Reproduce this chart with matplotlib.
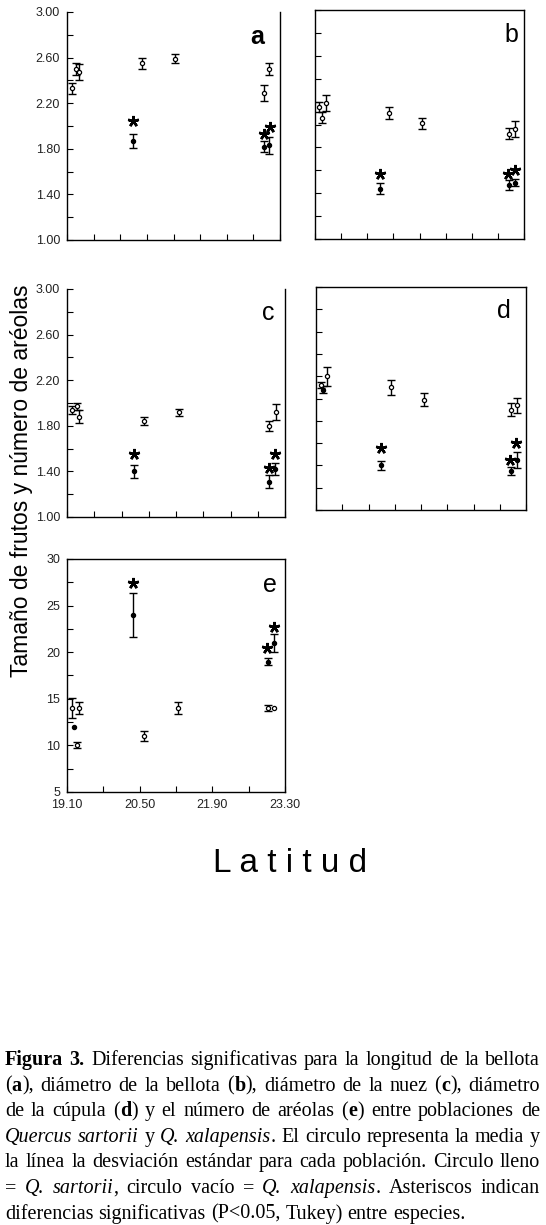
import numpy as np
import matplotlib
matplotlib.use("Agg")
import matplotlib.pyplot as plt
from matplotlib.ticker import MultipleLocator, FixedLocator, NullFormatter

plt.rcParams['font.family'] = ['Liberation Sans', 'DejaVu Sans']

W, H = 546, 1225

# (a) longitud de la bellota
a_xal_lat = [19.19, 19.27, 19.33, 20.58, 21.23, 22.98, 23.09]
a_xal_mean = [2.33, 2.50, 2.47, 2.55, 2.59, 2.29, 2.50]
a_xal_sd = [0.05, 0.05, 0.07, 0.05, 0.04, 0.07, 0.05]
a_sar_lat = [20.40, 22.98, 23.08]
a_sar_mean = [1.87, 1.82, 1.83]
a_sar_sd = [0.06, 0.05, 0.075]
a_star_lat = [20.40, 22.98, 23.10]
a_star_y = [2.04, 1.93, 1.99]

# (b) diametro de la bellota
b_xal_lat = [19.19, 19.24, 19.33, 20.59, 21.25, 23.00, 23.11]
b_xal_mean = [2.15, 2.06, 2.19, 2.10, 2.01, 1.92, 1.96]
b_xal_sd = [0.045, 0.05, 0.07, 0.05, 0.05, 0.05, 0.07]
b_sar_lat = [20.40, 23.00, 23.11]
b_sar_mean = [1.44, 1.47, 1.49]
b_sar_sd = [0.05, 0.045, 0.03]
b_star_lat = [20.40, 22.97, 23.11]
b_star_y = [1.57, 1.57, 1.60]

# (c) diametro de la nuez
c_xal_lat = [19.19, 19.30, 19.34, 20.59, 21.25, 23.00, 23.12]
c_xal_mean = [1.94, 1.97, 1.88, 1.84, 1.92, 1.80, 1.92]
c_xal_sd = [0.035, 0.03, 0.055, 0.037, 0.03, 0.045, 0.073]
c_sar_lat = [20.40, 23.00, 23.10]
c_sar_mean = [1.40, 1.31, 1.42]
c_sar_sd = [0.06, 0.06, 0.055]
c_star_lat = [20.40, 22.99, 23.11]
c_star_y = [1.55, 1.43, 1.55]

# (d) diametro de la cupula
d_xal_lat = [19.19, 19.33, 20.59, 21.25, 23.00, 23.11]
d_xal_mean = [2.12, 2.20, 2.10, 1.99, 1.90, 1.94]
d_xal_sd = [0.03, 0.085, 0.07, 0.06, 0.057, 0.067]
d_sar_lat = [19.24, 20.40, 23.00, 23.11]
d_sar_mean = [2.08, 1.40, 1.35, 1.45]
d_sar_sd = [0.035, 0.04, 0.037, 0.072]
d_star_lat = [20.40, 22.98, 23.10]
d_star_y = [1.56, 1.45, 1.60]

# (e) numero de areolas
e_xal_lat = [19.19, 19.30, 19.33, 20.59, 21.23, 22.98, 23.09]
e_xal_mean = [14.0, 10.0, 14.0, 11.0, 14.0, 14.0, 14.0]
e_xal_sd = [1.05, 0.32, 0.67, 0.5, 0.67, 0.33, 0.0]
e_sar_lat = [19.24, 20.38, 22.98, 23.09]
e_sar_mean = [12.0, 24.0, 19.0, 21.0]
e_sar_sd = [0.0, 2.33, 0.36, 1.0]
e_star_lat = [20.38, 22.96, 23.09]
e_star_y = [27.4, 20.4, 22.7]

e_xticks = ["19.10", "20.50", "21.90", "23.30"]
ad_yticks = [1.00, 1.40, 1.80, 2.20, 2.60, 3.00]

caption = [
    [("Figura 3.", "b"), (" Diferencias significativas para la longitud de la bellota", "")],
    [("(", ""), ("a", "b"), ("), diámetro de la bellota (", ""), ("b", "b"),
     ("), diámetro de la nuez (", ""), ("c", "b"), ("), diámetro", "")],
    [("de la cúpula (", ""), ("d", "b"), (") y el número de aréolas (", ""), ("e", "b"),
     (") entre poblaciones de", "")],
    [("Quercus sartorii", "i"), (" y ", ""), ("Q. xalapensis", "i"),
     (". El circulo representa la media y", "")],
    [("la línea la desviación estándar para cada población. Circulo lleno", "")],
    [("= ", ""), ("Q. sartorii", "i"), (", circulo vacío = ", ""), ("Q. xalapensis", "i"),
     (". Asteriscos indican", "")],
    [("diferencias significativas (P<0.05, Tukey) entre especies.", "")],
]


def px_axes(fig, l, t, r, b):
    return fig.add_axes([l / W, 1 - b / H, (r - l) / W, (b - t) / H])


def draw_group(ax, lat, mean, sd, face):
    lat, mean, sd = np.array(lat), np.array(mean), np.array(sd)
    m = sd > 0
    ax.errorbar(lat[m], mean[m], yerr=sd[m], fmt='none', ecolor='black',
                elinewidth=1, capsize=3.2, capthick=1, zorder=2)
    ax.plot(lat, mean, 'o', ms=3, mfc=face, mec='black', mew=0.9, zorder=3)


def panel(ax, xal, sar, stars, top_spine=True):
    draw_group(ax, *xal, 'white')
    draw_group(ax, *sar, 'black')
    ax.plot(stars[0], stars[1], ls='none', marker=(5, 2, 0), ms=8, mew=1.8,
            color='black', zorder=4)
    ax.spines['top'].set_visible(top_spine)
    for s in ax.spines.values():
        s.set_linewidth(1)
    ax.tick_params(which='both', direction='in', length=4, width=0.8,
                   labelsize=9, labelcolor='#222222', pad=5)
    ax.tick_params(axis='x', pad=5)


fig = plt.figure(figsize=(W / 100, H / 100), dpi=100)

axa = px_axes(fig, 67, 12, 280, 240)
axb = px_axes(fig, 315, 10, 524, 239)
axc = px_axes(fig, 67, 289, 285, 517)
axd = px_axes(fig, 316, 287, 526, 510)
axe = px_axes(fig, 67, 559, 285, 792)

panel(axa, (a_xal_lat, a_xal_mean, a_xal_sd), (a_sar_lat, a_sar_mean, a_sar_sd),
      (a_star_lat, a_star_y), top_spine=False)
panel(axb, (b_xal_lat, b_xal_mean, b_xal_sd), (b_sar_lat, b_sar_mean, b_sar_sd),
      (b_star_lat, b_star_y))
panel(axc, (c_xal_lat, c_xal_mean, c_xal_sd), (c_sar_lat, c_sar_mean, c_sar_sd),
      (c_star_lat, c_star_y), top_spine=False)
panel(axd, (d_xal_lat, d_xal_mean, d_xal_sd), (d_sar_lat, d_sar_mean, d_sar_sd),
      (d_star_lat, d_star_y))
panel(axe, (e_xal_lat, e_xal_mean, e_xal_sd), (e_sar_lat, e_sar_mean, e_sar_sd),
      (e_star_lat, e_star_y))

for ax in [axa, axb, axc, axd]:
    ax.set_xlim(19.1, 23.3)
    ax.set_ylim(1.0, 3.0)
    ax.xaxis.set_major_locator(FixedLocator(np.linspace(19.1, 23.3, 9)))
    ax.xaxis.set_major_formatter(NullFormatter())
    ax.yaxis.set_major_locator(FixedLocator(ad_yticks))
    ax.yaxis.set_minor_locator(FixedLocator([1.2, 1.6, 2.0, 2.4, 2.8]))
    ax.yaxis.set_major_formatter(lambda v, p: f"{v:.2f}")
for ax in [axb, axd]:
    ax.yaxis.set_major_formatter(NullFormatter())

axe.set_xlim(19.1, 23.3)
axe.set_ylim(5, 30)
axe.xaxis.set_major_locator(FixedLocator([19.1, 20.5, 21.9, 23.3]))
axe.xaxis.set_minor_locator(FixedLocator([19.8, 21.2, 22.6]))
axe.set_xticklabels(e_xticks)
axe.yaxis.set_major_locator(MultipleLocator(5))
axe.yaxis.set_minor_locator(MultipleLocator(2.5))

# panel letters
for (x, y, s) in [(257, 37, "a"), (511, 35, "b"), (268, 313, "c"), (504, 311, "d"), (270, 585, "e")]:
    fig.text(x / W, 1 - y / H, s, fontsize=18, ha='center', va='center',
             weight='bold' if s == "a" else 'normal')

fig.text(22 / W, 1 - 481 / H, "Tamaño de frutos y número de aréolas", rotation=90,
         fontsize=16.5, ha='center', va='center')
fig.text(290 / W, 1 - 863 / H, "L a t i t u d", fontsize=24, ha='center', va='center')

# justified caption
cap_fs = 14.5
left, right = 5, 540
renderer = fig.canvas.get_renderer()
styles = {"": {}, "b": {"weight": "bold"}, "i": {"style": "italic"}}
for k, runs in enumerate(caption):
    words = [[]]
    for txt, st in runs:
        parts = txt.split(' ')
        for i, p in enumerate(parts):
            if i > 0:
                words.append([])
            if p:
                words[-1].append((p, st))
    words = [w for w in words if w]
    yb = 1 - (1065 + 25.6 * k) / H
    objs = []
    for w in words:
        pieces = []
        for p, st in w:
            t = fig.text(0, yb, p, fontsize=cap_fs, family='Liberation Serif',
                         va='baseline', ha='left', **styles[st])
            wpx = t.get_window_extent(renderer).width
            pieces.append((t, wpx))
        objs.append(pieces)
    widths = [sum(p[1] for p in ps) for ps in objs]
    if k < len(caption) - 1:
        gap = (right - left - sum(widths)) / (len(objs) - 1)
    else:
        gap = cap_fs * 100 / 72 * 0.25
    x = left
    for ps, wd in zip(objs, widths):
        xx = x
        for t, wpx in ps:
            t.set_x(xx / W)
            xx += wpx
        x += wd + gap

fig.savefig("out.png", dpi=100)
